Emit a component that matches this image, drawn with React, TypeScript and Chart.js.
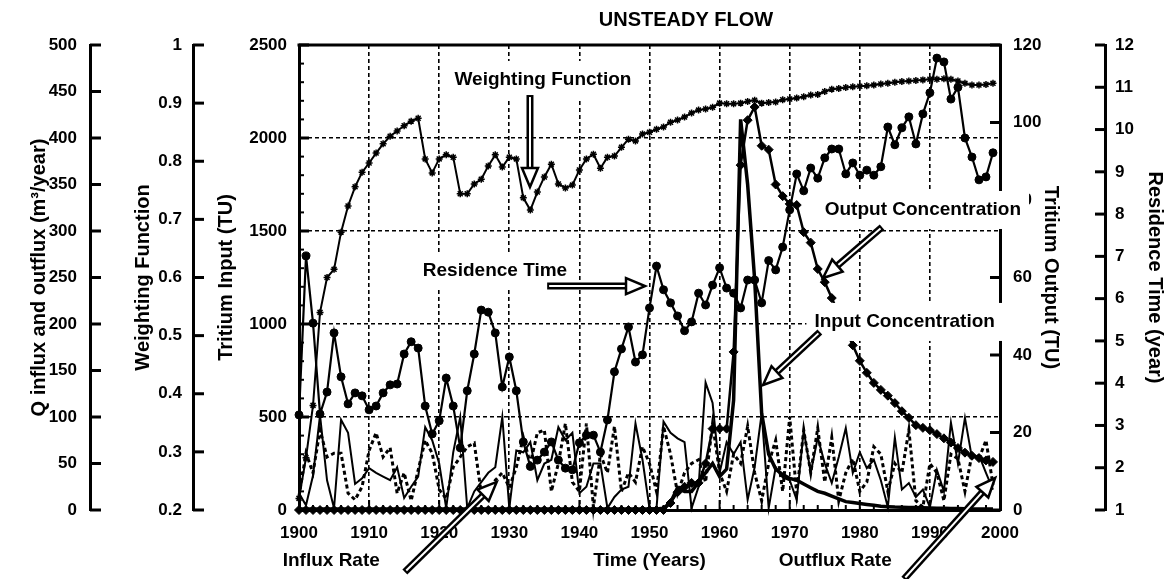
import React, { useEffect, useRef } from 'react';
import { Chart, registerables } from 'chart.js';

Chart.register(...registerables);

const FONT = "'Liberation Sans', Arial, Helvetica, sans-serif";

// ---------- data ----------
const YEARS = [
  1900, 1901, 1902, 1903, 1904, 1905, 1906, 1907, 1908, 1909,
  1910, 1911, 1912, 1913, 1914, 1915, 1916, 1917, 1918, 1919,
  1920, 1921, 1922, 1923, 1924, 1925, 1926, 1927, 1928, 1929,
  1930, 1931, 1932, 1933, 1934, 1935, 1936, 1937, 1938, 1939,
  1940, 1941, 1942, 1943, 1944, 1945, 1946, 1947, 1948, 1949,
  1950, 1951, 1952, 1953, 1954, 1955, 1956, 1957, 1958, 1959,
  1960, 1961, 1962, 1963, 1964, 1965, 1966, 1967, 1968, 1969,
  1970, 1971, 1972, 1973, 1974, 1975, 1976, 1977, 1978, 1979,
  1980, 1981, 1982, 1983, 1984, 1985, 1986, 1987, 1988, 1989,
  1990, 1991, 1992, 1993, 1994, 1995, 1996, 1997, 1998, 1999,
];

// Weighting function (0.2 - 1)
const WEIGHTING = [
  0.22, 0.29, 0.38, 0.54, 0.60, 0.614, 0.678, 0.723, 0.756, 0.781,
  0.797, 0.814, 0.83, 0.843, 0.852, 0.861, 0.869, 0.874, 0.804, 0.78,
  0.804, 0.811, 0.807, 0.744, 0.744, 0.761, 0.769, 0.792, 0.811, 0.79,
  0.807, 0.804, 0.737, 0.716, 0.747, 0.773, 0.795, 0.761, 0.754, 0.759,
  0.785, 0.804, 0.812, 0.788, 0.807, 0.809, 0.824, 0.838, 0.835, 0.847,
  0.85, 0.855, 0.859, 0.867, 0.871, 0.876, 0.883, 0.888, 0.89, 0.893,
  0.9, 0.899, 0.899, 0.9, 0.903, 0.905, 0.9, 0.901, 0.902, 0.906,
  0.907, 0.909, 0.911, 0.914, 0.915, 0.92, 0.924, 0.925, 0.927, 0.928,
  0.929, 0.93, 0.931, 0.933, 0.934, 0.936, 0.937, 0.938, 0.939, 0.94,
  0.941, 0.941, 0.942, 0.941, 0.938, 0.934, 0.931, 0.931, 0.932, 0.934,
];

// Residence time (year)
const RESIDENCE = [
  3.25, 7.01, 5.42, 3.27, 3.79, 5.19, 4.15, 3.51, 3.77, 3.70,
  3.37, 3.46, 3.77, 3.96, 3.98, 4.69, 4.98, 4.83, 3.46, 2.80,
  3.11, 4.12, 3.46, 2.47, 3.82, 4.69, 5.73, 5.68, 5.19, 3.91,
  4.62, 3.82, 2.61, 2.03, 2.18, 2.37, 2.61, 2.18, 1.99, 1.95,
  2.59, 2.77, 2.77, 2.37, 3.13, 4.27, 4.81, 5.33, 4.50, 4.67,
  5.78, 6.77, 6.21, 5.90, 5.59, 5.24, 5.45, 6.13, 5.85, 6.32,
  6.73, 6.25, 6.13, 5.78, 6.44, 6.44, 5.90, 6.90, 6.68, 7.22,
  8.10, 8.95, 8.55, 9.09, 8.85, 9.33, 9.54, 9.54, 8.95, 9.21,
  8.92, 9.04, 8.92, 9.12, 10.06, 9.64, 10.04, 10.30, 9.66, 10.37,
  10.87, 11.69, 11.60, 10.72, 11.00, 9.80, 9.35, 8.81, 8.88, 9.45,
];

// Tritium output (TU)
const OUTPUT_TU = [
  0, 0, 0, 0, 0, 0, 0, 0, 0, 0,
  0, 0, 0, 0, 0, 0, 0, 0, 0, 0,
  0, 0, 0, 0, 0, 0, 0, 0, 0, 0,
  0, 0, 0, 0, 0, 0, 0, 0, 0, 0,
  0, 0, 0, 0, 0, 0, 0, 0, 0, 0,
  0, 0, 0, 1.8, 4.6, 6, 7, 7, 12, 21,
  21, 21, 40.8, 89, 100.6, 104, 94, 93, 84, 81,
  79, 78.7, 71.7, 69, 62.2, 58.8, 54.7, 50.5, 46.5, 42.5,
  38.5, 35.4, 32.8, 31, 29.5, 27.6, 25.5, 23.8, 21.9, 21.2,
  20.6, 19.6, 18.5, 17.4, 16, 14.8, 14, 13.4, 12.8, 12.4,
];

// Tritium input (TU)
const INPUT_TU = [
  5, 5, 5, 5, 5, 5, 5, 5, 5, 5,
  5, 5, 5, 5, 5, 5, 5, 5, 5, 5,
  5, 5, 5, 5, 5, 5, 5, 5, 5, 5,
  5, 5, 5, 5, 5, 5, 5, 5, 5, 5,
  5, 5, 5, 5, 5, 5, 5, 5, 5, 5,
  5, 5, 10, 40, 120, 100, 100, 150, 200, 250,
  180, 220, 590, 2100, 1750, 1240, 520, 300, 220, 190,
  170, 160, 140, 120, 100, 90, 75, 60, 45, 40,
  35, 30, 25, 20, 18, 16, 15, 14, 13, 12,
  11, 10, 9, 8, 8, 7, 6, 6, 5, 5,
];

// Influx rate Q (m3/year) - dotted
const INFLUX = [
  15, 61, 40, 86, 57, 61, 61, 18, 11, 25,
  64, 83, 57, 67, 18, 40, 10, 43, 75, 61,
  22, 12, 46, 57, 68, 72, 18, 20, 32, 40,
  24, 46, 78, 50, 83, 86, 20, 50, 93, 30,
  20, 93, 3, 60, 40, 90, 20, 40, 30, 68,
  50, 20, 90, 60, 18, 40, 50, 54, 30, 93,
  40, 20, 60, 50, 90, 40, 10, 50, 75, 20,
  100, 18, 86, 40, 88, 30, 78, 10, 40, 55,
  20, 30, 68, 60, 20, 50, 40, 86, 10, 3,
  50, 40, 10, 60, 55, 20, 60, 55, 75, 27,
];

// Outflux rate Q (m3/year) - solid
const OUTFLUX = [
  18, 5, 37, 102, 32, 2, 97, 83, 28, 34,
  45, 40, 36, 32, 46, 13, 25, 36, 89, 75,
  50, 2, 62, 100, 2, 20, 30, 40, 46, 100,
  2, 64, 62, 73, 32, 50, 54, 89, 75, 83,
  18, 25, 50, 50, 2, 14, 22, 25, 93, 54,
  2, 2, 95, 83, 77, 73, 2, 25, 137, 115,
  40, 73, 60, 73, 11, 46, 104, 2, 46, 35,
  32, 11, 86, 40, 78, 50, 29, 57, 88, 40,
  62, 45, 54, 32, 3, 78, 22, 29, 14, 22,
  3, 43, 20, 94, 50, 99, 56, 59, 40, 22,
];

// ---------- annotations (in year / tritium-input units) ----------
const LABELS = [
  { text: 'Weighting Function', year: 1934.8, ti: 2312, box: true },
  { text: 'Residence Time', year: 1927.96, ti: 1285, box: true },
  { text: 'Output Concentration', year: 1989.0, ti: 1613, box: true },
  { text: 'Input Concentration', year: 1986.4, ti: 1011, box: true },
  { text: 'Influx Rate', year: 1904.6, ti: -274, box: false },
  { text: 'Outflux Rate', year: 1976.5, ti: -274, box: false },
];

const ARROWS = [
  { from: [1932.95, 2231], to: [1932.95, 1736] },
  { from: [1935.4, 1204], to: [1949.36, 1204] },
  { from: [1983.17, 1521], to: [1974.75, 1247] },
  { from: [1974.3, 957], to: [1966.2, 672] },
  { from: [1915.1, -333], to: [1928.2, 151] },
  { from: [1986.3, -371], to: [1999.3, 172] },
];

const pts = (vals: number[]) => YEARS.map((x, i) => ({ x, y: vals[i] }));

function line(ctx: CanvasRenderingContext2D, x1: number, y1: number, x2: number, y2: number) {
  ctx.beginPath();
  ctx.moveTo(x1, y1);
  ctx.lineTo(x2, y2);
  ctx.stroke();
}

function drawArrow(ctx: CanvasRenderingContext2D, x1: number, y1: number, x2: number, y2: number) {
  const headLen = 19;
  const headW = 16;
  const ang = Math.atan2(y2 - y1, x2 - x1);
  const c = Math.cos(ang), s = Math.sin(ang);
  const bx = x2 - headLen * c, by = y2 - headLen * s;
  ctx.lineCap = 'butt';
  ctx.strokeStyle = '#000';
  ctx.lineWidth = 7;
  line(ctx, x1, y1, bx, by);
  ctx.strokeStyle = '#fff';
  ctx.lineWidth = 2;
  line(ctx, x1 + 2 * c, y1 + 2 * s, bx, by);
  const px = -s, py = c;
  ctx.beginPath();
  ctx.moveTo(x2, y2);
  ctx.lineTo(bx + px * headW / 2, by + py * headW / 2);
  ctx.lineTo(bx - px * headW / 2, by - py * headW / 2);
  ctx.closePath();
  ctx.fillStyle = '#fff';
  ctx.fill();
  ctx.lineWidth = 2.5;
  ctx.strokeStyle = '#000';
  ctx.lineJoin = 'miter';
  ctx.stroke();
}

const framePlugin = {
  id: 'frameTicks',
  beforeDatasetsDraw(chart: any) {
    const { ctx, chartArea: ca, scales: s } = chart;
    ctx.save();
    ctx.strokeStyle = '#000';
    ctx.lineCap = 'butt';
    const vt = (scale: any, x: number, dir: number, len: number, lw: number, values: number[]) => {
      ctx.lineWidth = lw;
      values.forEach((v) => {
        const y = scale.getPixelForValue(v);
        line(ctx, x, y, x + dir * len, y);
      });
    };
    const major = (scale: any) => scale.ticks.map((t: any) => t.value);
    vt(s.yTI, s.yTI.right, 1, 10, 3, major(s.yTI));
    const minorTI: number[] = [];
    for (let v = 100; v < 2500; v += 100) if (v % 500 !== 0) minorTI.push(v);
    vt(s.yTI, s.yTI.right, 1, 5, 2, minorTI);
    vt(s.yWF, s.yWF.right, 1, 11, 3, major(s.yWF));
    vt(s.yQ, s.yQ.right, 1, 11, 3, major(s.yQ));
    vt(s.yTO, s.yTO.left, -1, 10, 3, major(s.yTO));
    vt(s.yRT, s.yRT.left, -1, 10, 3, major(s.yRT));
    // x ticks
    ctx.lineWidth = 2;
    for (let yr = 1900; yr <= 2000; yr += 2) {
      const x = s.x.getPixelForValue(yr);
      const len = yr % 10 === 0 ? 10 : 5;
      line(ctx, x, ca.bottom, x, ca.bottom - len);
    }
    // top frame
    ctx.lineWidth = 3;
    line(ctx, ca.left - 1.5, ca.top, ca.right + 1.5, ca.top);
    ctx.restore();
  },
};

const annotationPlugin = {
  id: 'annotations',
  afterDraw(chart: any) {
    const { ctx, scales: s } = chart;
    ctx.save();
    // main title
    ctx.fillStyle = '#000';
    ctx.font = `bold 20px ${FONT}`;
    ctx.textAlign = 'center';
    ctx.textBaseline = 'middle';
    ctx.fillText('UNSTEADY FLOW', 686, 20);
    // labels
    ctx.font = `bold 19px ${FONT}`;
    LABELS.forEach((l) => {
      const x = s.x.getPixelForValue(l.year);
      const y = s.yTI.getPixelForValue(l.ti);
      const w = ctx.measureText(l.text).width;
      if (l.box) {
        ctx.fillStyle = '#fff';
        ctx.fillRect(x - w / 2 - 8, y - 19, w + 16, 38);
      }
      ctx.fillStyle = '#000';
      ctx.fillText(l.text, x, y);
    });
    ARROWS.forEach((a) => {
      drawArrow(
        ctx,
        s.x.getPixelForValue(a.from[0]), s.yTI.getPixelForValue(a.from[1]),
        s.x.getPixelForValue(a.to[0]), s.yTI.getPixelForValue(a.to[1]),
      );
    });
    ctx.restore();
  },
};

const tickFont = { family: FONT, size: 17, weight: 'bold' as const };
const titleFont = { family: FONT, size: 20, weight: 'bold' as const };

function yAxis(opts: any) {
  const { position, weight, min, max, step, title, titlePad, labelPad, width, grid, fmt } = opts;
  return {
    type: 'linear',
    position,
    weight,
    min,
    max,
    afterFit: (sc: any) => { sc.width = width; },
    ticks: {
      stepSize: step,
      autoSkip: false,
      font: tickFont,
      color: '#000',
      padding: labelPad,
      callback: fmt || ((v: number) => String(v)),
    },
    grid: grid
      ? { drawTicks: false, color: '#000', lineWidth: 1.6 }
      : { drawTicks: false, drawOnChartArea: false },
    border: { display: true, width: 3, color: '#000', dash: grid ? [4, 3] : [] },
    title: { display: true, text: title, font: titleFont, color: '#000', padding: { top: titlePad, bottom: 0 } },
  };
}

export default function App() {
  const ref = useRef<HTMLCanvasElement>(null);
  useEffect(() => {
    document.body.style.margin = '0';
    const chart = new Chart(ref.current as HTMLCanvasElement, {
      type: 'line',
      data: {
        datasets: [
          {
            label: 'Output Concentration', data: pts(OUTPUT_TU), yAxisID: 'yTO',
            borderColor: '#000', backgroundColor: '#000', borderWidth: 2.5,
            pointStyle: 'rectRot', pointRadius: 4.5, pointBorderWidth: 1, clip: false,
          },
          {
            label: 'Residence Time', data: pts(RESIDENCE), yAxisID: 'yRT',
            borderColor: '#000', backgroundColor: '#000', borderWidth: 2.2,
            pointStyle: 'circle', pointRadius: 4, pointBorderWidth: 1, clip: false,
          },
          {
            label: 'Weighting Function', data: pts(WEIGHTING), yAxisID: 'yWF',
            borderColor: '#000', backgroundColor: '#000', borderWidth: 2,
            pointStyle: 'star', pointRadius: 3.5, pointBorderWidth: 1.5, clip: false,
          },
          {
            label: 'Input Concentration', data: pts(INPUT_TU), yAxisID: 'yTI',
            borderColor: '#000', borderWidth: 3.5, pointRadius: 0, clip: false,
          },
          {
            label: 'Outflux Rate', data: pts(OUTFLUX), yAxisID: 'yQ',
            borderColor: '#000', borderWidth: 2, pointRadius: 0, clip: false,
          },
          {
            label: 'Influx Rate', data: pts(INFLUX), yAxisID: 'yQ',
            borderColor: '#000', borderWidth: 3, borderDash: [4, 3], pointRadius: 0, clip: false,
          },
        ],
      },
      options: {
        animation: false,
        responsive: false,
        maintainAspectRatio: false,
        layout: { padding: { top: 45, left: 0, right: 0, bottom: 0 } },
        plugins: { legend: { display: false }, tooltip: { enabled: false }, title: { display: false } },
        elements: { line: { tension: 0 } },
        scales: {
          x: {
            type: 'linear', position: 'bottom', min: 1900, max: 2000,
            afterFit: (sc: any) => { sc.height = 69; },
            ticks: { stepSize: 10, font: tickFont, color: '#000', padding: 13, callback: (v: number) => String(v) },
            grid: { drawTicks: false, color: '#000', lineWidth: 1.6 },
            border: { display: true, width: 3, color: '#000', dash: [4, 3] },
            title: { display: true, text: 'Time (Years)', font: { family: FONT, size: 19, weight: 'bold' }, color: '#000', padding: { top: 0, bottom: 7 } },
          },
          yTI: yAxis({ position: 'left', weight: 0, min: 0, max: 2500, step: 500, title: 'Tritium Input (TU)', titlePad: 21, labelPad: 12, width: 106, grid: true }),
          yWF: yAxis({ position: 'left', weight: 1, min: 0.2, max: 1, step: 0.1, title: 'Weighting Function', titlePad: 41, labelPad: 11, width: 103, grid: false, fmt: (v: number) => String(Number(v.toFixed(1))) }),
          yQ: yAxis({ position: 'left', weight: 2, min: 0, max: 500, step: 50, title: 'Q influx and outflux (m³/year)', titlePad: 27, labelPad: 13, width: 90, grid: false }),
          yTO: yAxis({ position: 'right', weight: 0, min: 0, max: 120, step: 20, title: 'Tritium Output (TU)', titlePad: 42, labelPad: 13, width: 105, grid: false }),
          yRT: yAxis({ position: 'right', weight: 1, min: 1, max: 12, step: 1, title: 'Residence Time (year)', titlePad: 4, labelPad: 10, width: 66, grid: false }),
        },
      } as any,
      plugins: [framePlugin, annotationPlugin],
    });
    return () => chart.destroy();
  }, []);
  return (
    <canvas ref={ref} width={1171} height={579} style={{ display: 'block', width: '1171px', height: '579px' }} />
  );
}
